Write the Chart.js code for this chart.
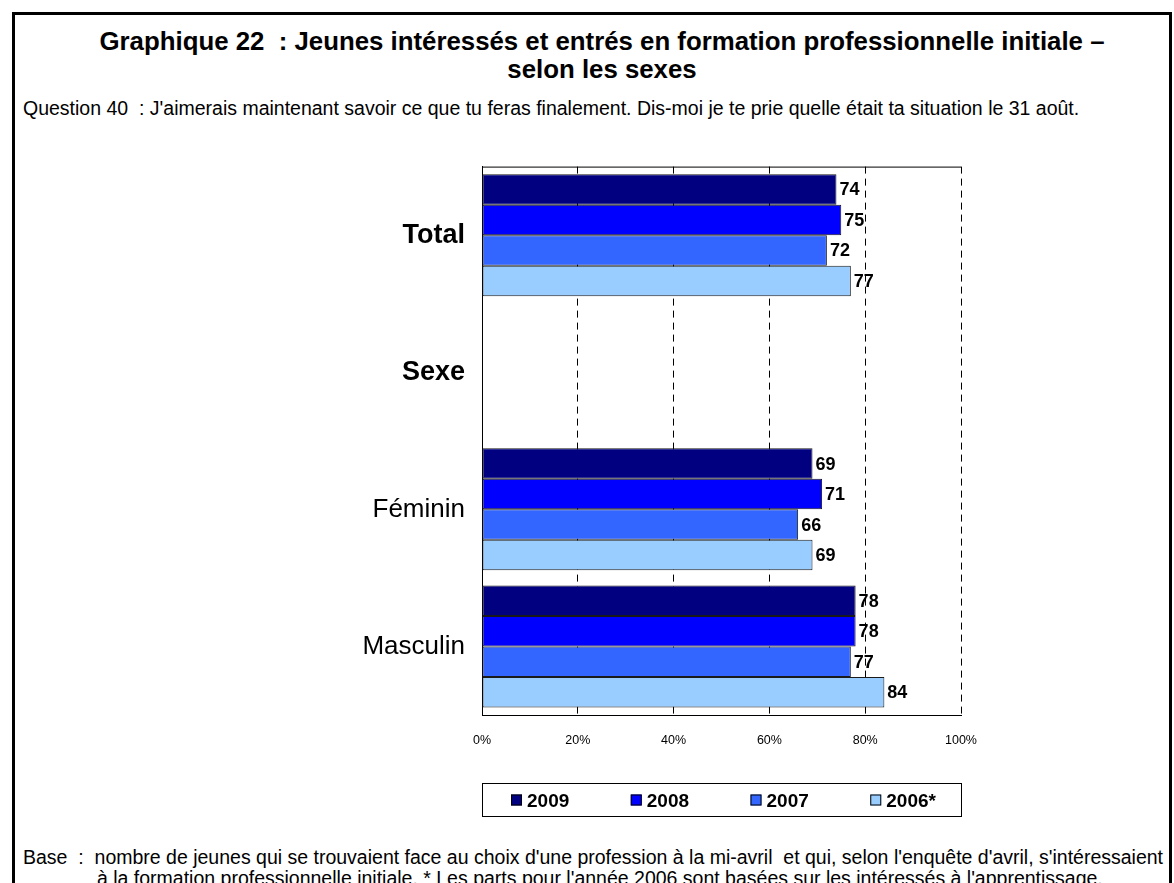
<!DOCTYPE html>
<html><head><meta charset="utf-8">
<script src="https://cdn.jsdelivr.net/npm/chart.js@4.4.1/dist/chart.umd.min.js"></script>
<style>
html,body{margin:0;padding:0;background:#fff;overflow:hidden;width:1174px;height:883px;font-family:"Liberation Sans",Arial,sans-serif;color:#000;}
#frame{position:absolute;left:12px;top:12px;width:1160px;height:900px;border:3px solid #000;border-bottom:none;box-sizing:border-box;}
#title{position:absolute;left:0;top:27px;width:1204px;text-align:center;font-weight:bold;font-size:25.8px;line-height:28px;white-space:nowrap;}
#question{position:absolute;left:23px;top:97px;font-size:19.5px;white-space:nowrap;}
#base{position:absolute;left:23px;top:847px;font-size:19.5px;line-height:21px;white-space:nowrap;}
#base .l2{padding-left:74px;}
#wrap{position:absolute;left:290px;top:134px;width:864px;height:696px;}
</style></head>
<body>
<div id="frame"></div>
<div id="title">Graphique 22 &nbsp;: Jeunes intéressés et entrés en formation professionnelle initiale –<br>selon les sexes</div>
<div id="question">Question 40 &nbsp;: J'aimerais maintenant savoir ce que tu feras finalement. Dis-moi je te prie quelle était ta situation le 31 août.</div>
<div id="base">Base &nbsp;: &nbsp;nombre de jeunes qui se trouvaient face au choix d'une profession à la mi-avril &nbsp;et qui, selon l'enquête d'avril, s'intéressaient<br><span class="l2">à la formation professionnelle initiale. * Les parts pour l'année 2006 sont basées sur les intéressés à l'apprentissage.</span></div>
<div id="wrap"><canvas id="c"></canvas></div>
<script>
const categories = ["Total", "Sexe", "Féminin", "Masculin"];
const seriesNames = ["2009", "2008", "2007", "2006*"];
const values2009 = [74, null, 69, 78];
const values2008 = [75, null, 71, 78];
const values2007 = [72, null, 66, 77];
const values2006 = [77, null, 69, 84];
const xTicks = [0, 20, 40, 60, 80, 100];
const colors = ["#000080", "#0000FF", "#3366FF", "#99CCFF"];
const boldCats = ["Total", "Sexe"];

const FONT = '"Liberation Sans", Arial, sans-serif';

const labelPlugin = {
  id: 'valueLabels',
  afterDatasetsDraw(chart) {
    const ctx = chart.ctx;
    ctx.save();
    ctx.font = 'bold 18px ' + FONT;
    ctx.fillStyle = '#000';
    ctx.textAlign = 'left';
    ctx.textBaseline = 'middle';
    chart.data.datasets.forEach((ds, di) => {
      const meta = chart.getDatasetMeta(di);
      meta.data.forEach((el, i) => {
        const v = ds.data[i];
        if (v === null || v === undefined) return;
        ctx.fillText(String(v), el.x + 3, el.y + 1);
      });
    });
    ctx.restore();
  }
};

const framePlugin = {
  id: 'frameAndLegend',
  afterDraw(chart) {
    const ctx = chart.ctx;
    const a = chart.chartArea;
    ctx.save();
    ctx.strokeStyle = '#000';
    ctx.lineWidth = 1;
    ctx.beginPath();
    ctx.moveTo(a.left, a.top + 0.5);
    ctx.lineTo(a.right, a.top + 0.5);
    ctx.stroke();
    const top = a.bottom + 68;
    const h = 33;
    ctx.strokeRect(a.left + 0.5, top + 0.5, a.right - a.left, h);
    const slot = (a.right - a.left) / seriesNames.length;
    ctx.font = 'bold 19px ' + FONT;
    ctx.textBaseline = 'middle';
    ctx.textAlign = 'left';
    seriesNames.forEach((name, i) => {
      const x = a.left + 29 + i * slot;
      const cy = top + h / 2 + 1;
      ctx.fillStyle = colors[i];
      ctx.fillRect(x, cy - 6, 11, 11);
      ctx.strokeStyle = '#000';
      ctx.strokeRect(x + 0.5, cy - 5.5, 10, 10);
      ctx.fillStyle = '#000';
      ctx.fillText(name, x + 16, cy + 1);
    });
    ctx.restore();
  }
};

const seriesData = [values2009, values2008, values2007, values2006];

new Chart(document.getElementById('c'), {
  type: 'bar',
  data: {
    labels: categories,
    datasets: seriesNames.map((n, i) => ({
      label: n,
      data: seriesData[i],
      backgroundColor: colors[i],
      borderColor: '#1a1a1a',
      borderWidth: 1,
      borderSkipped: false,
      categoryPercentage: 0.89,
      barPercentage: 1.0
    }))
  },
  options: {
    indexAxis: 'y',
    responsive: true,
    maintainAspectRatio: false,
    animation: false,
    layout: { padding: { top: 4, right: 193, left: 0, bottom: 0 } },
    plugins: { legend: { display: false }, tooltip: { enabled: false } },
    scales: {
      x: {
        min: 0, max: 100,
        afterBuildTicks: (scale) => { scale.ticks = xTicks.map(v => ({ value: v })); },
        afterFit: (scale) => { scale.height = 115; },
        ticks: {
          padding: 18,
          color: '#000',
          font: { size: 12.5, family: FONT },
          callback: (v) => v + '%'
        },
        grid: { display: true, color: '#000', lineWidth: 1, drawTicks: false },
        border: { display: true, color: '#000', width: 1, dash: [7, 5] }
      },
      y: {
        afterFit: (scale) => { scale.width = 192; },
        ticks: {
          padding: 17,
          color: '#000',
          font: (ctx) => ({ size: boldCats.includes(categories[ctx.index]) ? 27 : 26, family: FONT, weight: boldCats.includes(categories[ctx.index]) ? 'bold' : 'normal' })
        },
        grid: { display: false, drawTicks: false },
        border: { display: true, color: '#000', width: 1 }
      }
    }
  },
  plugins: [labelPlugin, framePlugin]
});
</script>
</body></html>
